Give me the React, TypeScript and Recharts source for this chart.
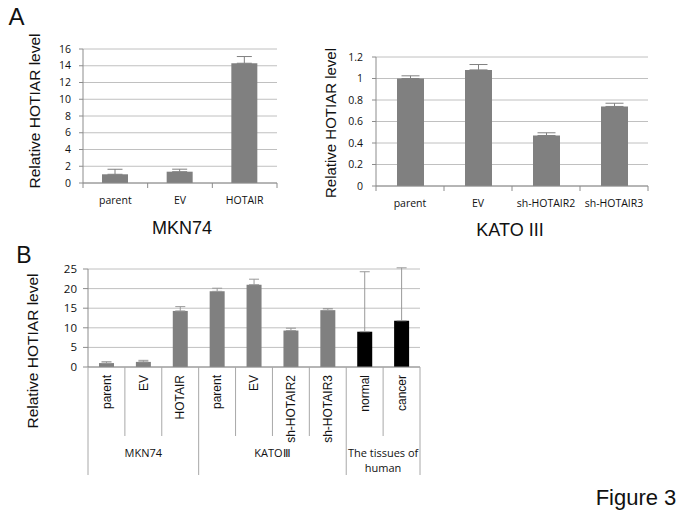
import { BarChart, Bar, XAxis, YAxis, CartesianGrid, ErrorBar, Cell } from 'recharts'

// A: MKN74
const mknCategories = ['parent', 'EV', 'HOTAIR']
const mknLevels = [1.04, 1.35, 14.3]
const mknErrors = [0.6, 0.3, 0.8]
const mknTicks = [0, 2, 4, 6, 8, 10, 12, 14, 16]

// A: KATO III
const katoCategories = ['parent', 'EV', 'sh-HOTAIR2', 'sh-HOTAIR3']
const katoLevels = [1.0, 1.08, 0.47, 0.74]
const katoErrors = [0.025, 0.05, 0.025, 0.03]
const katoTicks = [0, 0.2, 0.4, 0.6, 0.8, 1, 1.2]

// B: all samples
const allCategories = ['parent', 'EV', 'HOTAIR', 'parent', 'EV', 'sh-HOTAIR2', 'sh-HOTAIR3', 'normal', 'cancer']
const allGroups = ['MKN74', 'MKN74', 'MKN74', 'KATOⅢ', 'KATOⅢ', 'KATOⅢ', 'KATOⅢ', 'The tissues of human', 'The tissues of human']
const allLevels = [1.0, 1.3, 14.3, 19.3, 21.0, 9.3, 14.5, 9.0, 11.8]
const allErrors = [0.35, 0.4, 1.1, 0.8, 1.4, 0.6, 0.4, 15.3, 13.5]
const allTicks = [0, 5, 10, 15, 20, 25]

const yLabel = 'Relative HOTIAR level'

const GRAY = '#808080'
const GRID = '#c0c0c0'
const AXIS = '#8c8c8c'
const INK = '#111111'
const catFont = '"Open Sans", sans-serif'
const arial = '"Liberation Sans", Arial, sans-serif'

const toRows = (cats: string[], vals: number[], errs: number[]) =>
  cats.map((c, i) => ({ name: c, key: `${i}`, value: vals[i], err: [0, errs[i]] }))

const mknData = toRows(mknCategories, mknLevels, mknErrors)
const katoData = toRows(katoCategories, katoLevels, katoErrors)
const allData = toRows(allCategories, allLevels, allErrors)

function ATick(props: any) {
  const { x, y, index, band, count, labels } = props
  return (
    <g>
      <line x1={x - band / 2} x2={x - band / 2} y1={y} y2={y + 5} stroke={AXIS} />
      {index === count - 1 && <line x1={x + band / 2} x2={x + band / 2} y1={y} y2={y + 5} stroke={AXIS} />}
      <text x={x} y={y + 21} textAnchor="middle" fontSize={10.5} fontFamily={catFont} fill={INK}>
        {labels[index]}
      </text>
    </g>
  )
}

function wrap(s: string, max: number) {
  const out: string[] = []
  let cur = ''
  for (const w of s.split(' ')) {
    if (cur && (cur + ' ' + w).length > max) {
      out.push(cur)
      cur = w
    } else cur = cur ? cur + ' ' + w : w
  }
  if (cur) out.push(cur)
  return out
}

function BTick(props: any) {
  const { x, y, index, band } = props
  const n = allCategories.length
  const group = allGroups[index]
  const first = index === 0 || allGroups[index - 1] !== group
  let size = 0
  while (allGroups[index + size] === group) size++
  const left = x - band / 2
  const ty = y + 8
  return (
    <g>
      <line x1={left} x2={left} y1={y} y2={y + (first ? 108 : 69)} stroke="#a8a8a8" />
      {index === n - 1 && <line x1={x + band / 2} x2={x + band / 2} y1={y} y2={y + 108} stroke="#a8a8a8" />}
      <text
        x={x}
        y={ty}
        dy="0.35em"
        textAnchor="end"
        transform={`rotate(-90, ${x}, ${ty})`}
        fontSize={12}
        fontFamily={arial}
        fill={INK}
      >
        {allCategories[index]}
      </text>
      {first && (
        <text x={left + (band * size) / 2} y={y + 90} textAnchor="middle" fontSize={11} fontFamily={catFont} fill={INK}>
          {wrap(group, 14).map((line, i) => (
            <tspan key={i} x={left + (band * size) / 2} dy={i === 0 ? 0 : 15}>
              {line}
            </tspan>
          ))}
        </text>
      )}
    </g>
  )
}

function Abs({ x, y, size, children, rotate }: any) {
  return (
    <div
      style={{
        position: 'absolute',
        left: x,
        top: y,
        transform: `translate(-50%, -50%)${rotate ? ' rotate(-90deg)' : ''}`,
        fontFamily: arial,
        fontSize: size,
        lineHeight: 1,
        whiteSpace: 'nowrap',
        color: INK,
      }}
    >
      {children}
    </div>
  )
}

export default function App() {
  const a1 = { w: 300, h: 240, m: { top: 49, right: 23, left: 23, bottom: 17 }, yw: 60, xh: 40 }
  const a2 = { w: 380, h: 240, m: { top: 57, right: 22, left: 26, bottom: 14 }, yw: 60, xh: 40 }
  const b = { w: 440, h: 250, m: { top: 29, right: 20, left: 28, bottom: 5 }, yw: 60, xh: 118 }
  const band1 = (a1.w - a1.m.left - a1.m.right - a1.yw) / mknData.length
  const band2 = (a2.w - a2.m.left - a2.m.right - a2.yw) / katoData.length
  const bandB = (b.w - b.m.left - b.m.right - b.yw) / allData.length

  return (
    <div style={{ position: 'absolute', left: 0, top: 0, width: 687, height: 522, background: '#fff', overflow: 'hidden' }}>
      <Abs x={16.5} y={16.5} size={24}>A</Abs>
      <Abs x={24} y={255} size={23}>B</Abs>

      <div style={{ position: 'absolute', left: 0, top: 0 }}>
        <BarChart width={a1.w} height={a1.h} data={mknData} margin={a1.m}>
          <CartesianGrid vertical={false} stroke={GRID} />
          <XAxis
            dataKey="key"
            height={a1.xh}
            interval={0}
            tickSize={0}
            tickMargin={0}
            axisLine={{ stroke: AXIS }}
            tick={(p: any) => <ATick {...p} band={band1} count={mknData.length} labels={mknCategories} />}
          />
          <YAxis
            width={a1.yw}
            domain={[0, 16]}
            ticks={mknTicks}
            interval={0}
            tickSize={4}
            tickMargin={8}
            axisLine={{ stroke: AXIS }}
            tickLine={{ stroke: AXIS }}
            tick={{ fontSize: 10.5, fontFamily: catFont, fill: INK }}
          />
          <Bar dataKey="value" fill={GRAY} barSize={26} isAnimationActive={false}>
            <ErrorBar dataKey="err" direction="y" width={7.5} stroke={GRAY} strokeWidth={1} />
          </Bar>
        </BarChart>
      </div>
      <Abs x={35} y={111} size={15.5} rotate>{yLabel}</Abs>
      <Abs x={182} y={228} size={18}>MKN74</Abs>

      <div style={{ position: 'absolute', left: 290, top: 0 }}>
        <BarChart width={a2.w} height={a2.h} data={katoData} margin={a2.m}>
          <CartesianGrid vertical={false} stroke={GRID} />
          <XAxis
            dataKey="key"
            height={a2.xh}
            interval={0}
            tickSize={0}
            tickMargin={0}
            axisLine={{ stroke: AXIS }}
            tick={(p: any) => <ATick {...p} band={band2} count={katoData.length} labels={katoCategories} />}
          />
          <YAxis
            width={a2.yw}
            domain={[0, 1.2]}
            ticks={katoTicks}
            interval={0}
            tickSize={4}
            tickMargin={9}
            axisLine={{ stroke: AXIS }}
            tickLine={{ stroke: AXIS }}
            tick={{ fontSize: 10.5, fontFamily: catFont, fill: INK }}
          />
          <Bar dataKey="value" fill={GRAY} barSize={27} isAnimationActive={false}>
            <ErrorBar dataKey="err" direction="y" width={9} stroke={GRAY} strokeWidth={1} />
          </Bar>
        </BarChart>
      </div>
      <Abs x={330} y={123} size={15} rotate>{yLabel}</Abs>
      <Abs x={510} y={230} size={18}>KATO III</Abs>

      <div style={{ position: 'absolute', left: 0, top: 240 }}>
        <BarChart width={b.w} height={b.h} data={allData} margin={b.m}>
          <CartesianGrid vertical={false} stroke={GRID} />
          <XAxis
            dataKey="key"
            height={b.xh}
            interval={0}
            tickSize={0}
            tickMargin={0}
            axisLine={{ stroke: AXIS }}
            tick={(p: any) => <BTick {...p} band={bandB} />}
          />
          <YAxis
            width={b.yw}
            domain={[0, 25]}
            allowDataOverflow
            ticks={allTicks}
            interval={0}
            tickSize={5}
            tickMargin={6}
            axisLine={{ stroke: AXIS }}
            tickLine={{ stroke: AXIS }}
            tick={{ fontSize: 11.5, fontFamily: catFont, fill: INK }}
          />
          <Bar dataKey="value" barSize={15} isAnimationActive={false}>
            {allData.map((d, i) => (
              <Cell key={d.key} fill={allGroups[i] === 'The tissues of human' ? '#000000' : GRAY} />
            ))}
            <ErrorBar dataKey="err" direction="y" width={5} stroke="#999999" strokeWidth={1} />
          </Bar>
        </BarChart>
      </div>
      <Abs x={33} y={351} size={15.5} rotate>{yLabel}</Abs>

      <Abs x={636} y={498} size={22}>Figure 3</Abs>
    </div>
  )
}
